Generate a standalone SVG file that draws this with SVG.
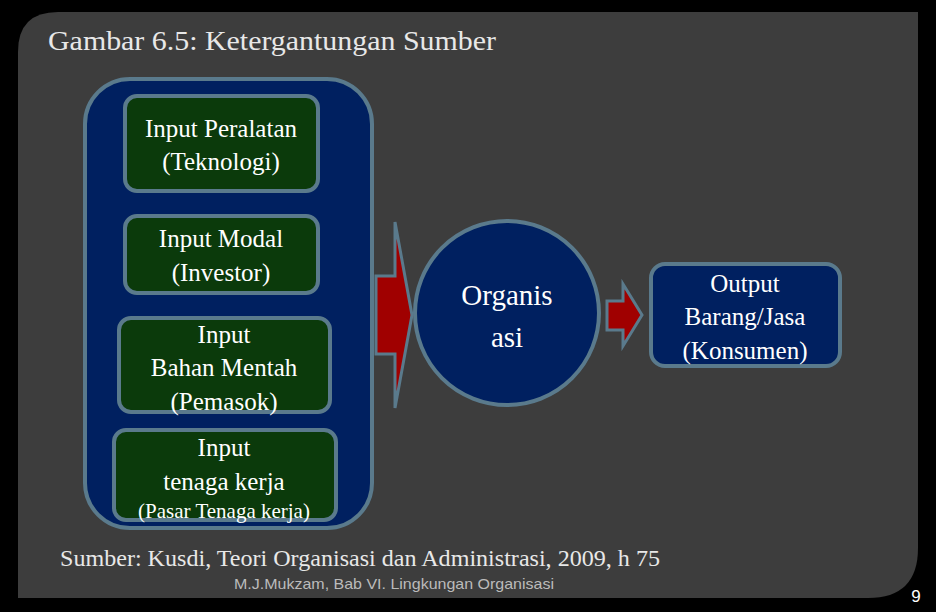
<svg xmlns="http://www.w3.org/2000/svg" width="936" height="612" viewBox="0 0 936 612">
<style>
.t{font-family:"Liberation Serif",serif;fill:#fff;text-anchor:middle}
.box{fill:#0b3a0b;stroke:#5a7a8c;stroke-width:4}
.arr{fill:#a00000;stroke:#5a7a8c;stroke-width:3}
</style>
<rect width="936" height="612" fill="#000"/>
<path d="M58 12 H918 V548 Q918 598 868 598 H18 V52 Q18 12 58 12 Z" fill="#3d3d3d"/>
<text x="48" y="50" class="t" style="text-anchor:start;fill:#e8e8e8" font-size="27" textLength="448" lengthAdjust="spacingAndGlyphs">Gambar 6.5: Ketergantungan Sumber</text>
<g id="container"><rect x="85" y="79" width="287" height="449" rx="45" fill="#002060" stroke="#5a7a8c" stroke-width="4"/></g>
<g id="n1"><rect class="box" x="125" y="96" width="193" height="95" rx="12"/>
<text class="t" font-size="25" x="221" y="137">Input Peralatan</text><text class="t" font-size="25" x="221" y="170">(Teknologi)</text></g>
<g id="n2"><rect class="box" x="125" y="216" width="193" height="77" rx="12"/>
<text class="t" font-size="25" x="221" y="247">Input Modal</text><text class="t" font-size="25" x="221" y="281">(Investor)</text></g>
<g id="n3"><rect class="box" x="119" y="318" width="211" height="94" rx="12"/>
<text class="t" font-size="25" x="224" y="343">Input</text><text class="t" font-size="25" x="224" y="376">Bahan Mentah</text><text class="t" font-size="25" x="224" y="410">(Pemasok)</text></g>
<g id="n4"><rect class="box" x="114" y="430" width="222" height="90" rx="12"/>
<text class="t" font-size="25" x="224" y="456">Input</text><text class="t" font-size="25" x="224" y="490">tenaga kerja</text><text class="t" font-size="21" x="224" y="518">(Pasar Tenaga kerja)</text></g>
<g id="connectors">
<path class="arr" d="M376 276 H395 V222 L412 315 L395 408 V354 H376 Z"/>
<path class="arr" d="M607 301 H623 V284 L642 315 L623 346 V330 H607 Z"/>
</g>
<g id="org"><circle cx="507" cy="313" r="92" fill="#002060" stroke="#5a7a8c" stroke-width="4"/>
<text class="t" font-size="29" x="507" y="305">Organis</text><text class="t" font-size="29" x="507" y="347">asi</text></g>
<g id="out"><rect x="651" y="264" width="189" height="102" rx="14" fill="#002060" stroke="#5a7a8c" stroke-width="4"/>
<text class="t" font-size="25" x="745" y="292">Output</text><text class="t" font-size="25" x="745" y="325">Barang/Jasa</text><text class="t" font-size="25" x="745" y="359">(Konsumen)</text></g>
<text class="t" style="text-anchor:start;fill:#e8e8e8" font-size="23" x="60" y="566" textLength="600" lengthAdjust="spacingAndGlyphs">Sumber: Kusdi, Teori Organisasi dan Administrasi, 2009, h 75</text>
<text x="394" y="589" font-family="Liberation Sans,sans-serif" font-size="15" fill="#bbb" text-anchor="middle" textLength="320" lengthAdjust="spacingAndGlyphs">M.J.Mukzam, Bab VI. Lingkungan Organisasi</text>
<text x="916" y="602" font-family="Liberation Sans,sans-serif" font-size="17" fill="#fff" text-anchor="middle">9</text>
</svg>
